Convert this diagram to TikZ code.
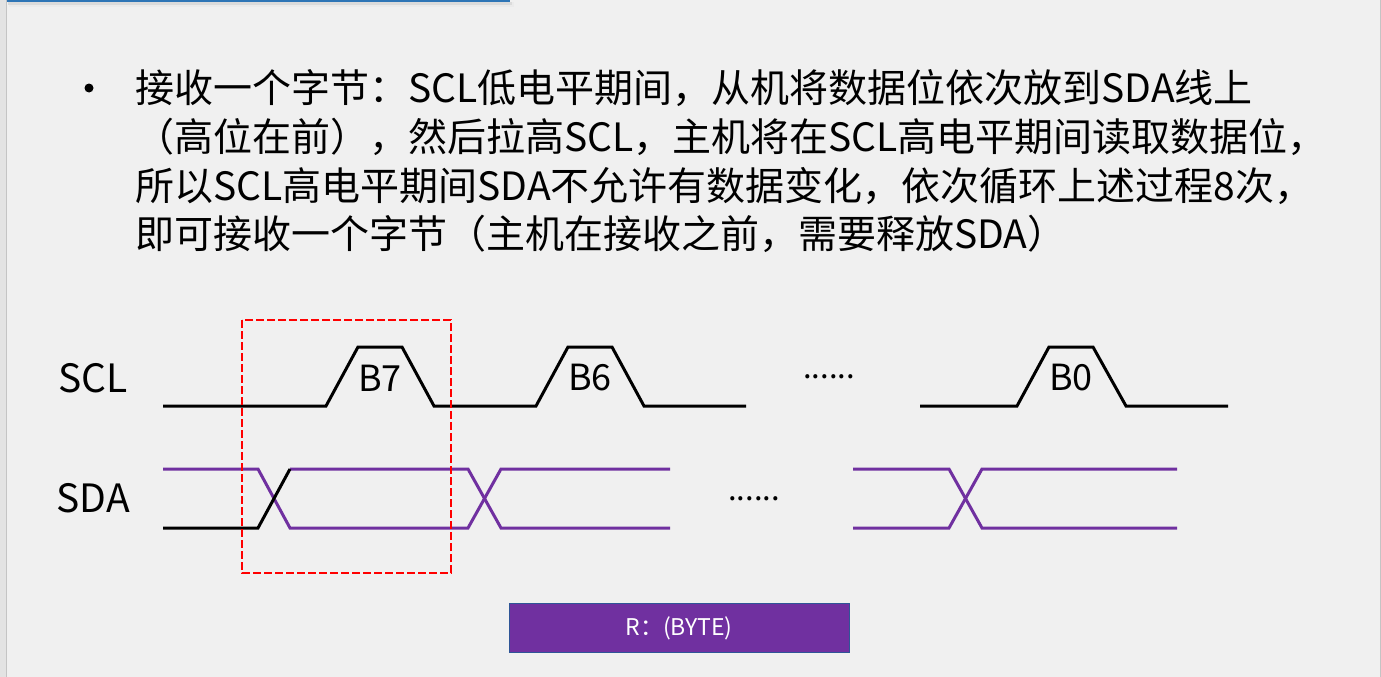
\documentclass[tikz,border=0pt]{standalone}
\usepackage{fontspec}
\setmainfont{Noto Sans CJK SC}
\usepackage{tikz}
\usetikzlibrary{calc}

\definecolor{slideBg}{HTML}{F0F0F0}
\definecolor{stripGray}{HTML}{E3E3E3}
\definecolor{edgeGray}{HTML}{C4C4C4}
\definecolor{titleBlue}{HTML}{2E75B6}
\definecolor{busPurple}{HTML}{7030A0}
\definecolor{boxEdge}{HTML}{2F5597}

\tikzset{
    sclLine/.style={black, line width=3pt},
    sdaLine/.style={busPurple, line width=3pt},
    bitFrame/.style={red, line width=1.1pt, dash pattern=on 8pt off 3pt},
    bodyText/.style={anchor=base west, inner sep=0pt, font=\fontsize{39}{49}\selectfont},
    sigName/.style={inner sep=0pt, font=\fontsize{39}{45}\selectfont},
    bitName/.style={inner sep=0pt, font=\fontsize{36}{40}\selectfont},
    dotsText/.style={inner sep=0pt, font=\fontsize{31}{34}\selectfont}
}

\begin{document}
\begin{tikzpicture}[x=1pt, y=-1pt]

    % === DEFINITIONS ===
    % signal levels (pixel rows of the slide)
    \def\sclLo{406}
    \def\sclHi{347}
    \def\sdaHi{469}
    \def\sdaLo{528}

    % === 0. SLIDE BACKGROUND ===
    \useasboundingbox (0,0) rectangle (1381,677);
    \fill[slideBg] (0,0) rectangle (1381,677);
    \fill[stripGray] (0,0) rectangle (6,677);
    \draw[edgeGray, line width=1pt] (6.5,0) -- (6.5,677);
    \draw[edgeGray, line width=1pt] (1380,0) -- (1380,677);
    % title bar remains at the top edge, with a soft shadow
    \fill[black!8] (9,2) rectangle (514,7);
    \fill[black!14] (8,2) rectangle (512,5);
    \fill[titleBlue] (7,0) rectangle (510,2.5);

    % === 1. BULLET TEXT ===
    \node[circle, fill=black, inner sep=0pt, minimum size=9pt] (dotA) at (89,88) {};
    \node[bodyText] (txtA) at (135,102) {接收一个字节：SCL低电平期间，从机将数据位依次放到SDA线上};
    \node[bodyText] (txtB) at (135,151) {（高位在前），然后拉高SCL，主机将在SCL高电平期间读取数据位，};
    \node[bodyText] (txtC) at (135,200) {所以SCL高电平期间SDA不允许有数据变化，依次循环上述过程8次，};
    \node[bodyText] (txtD) at (135,248) {即可接收一个字节（主机在接收之前，需要释放SDA）};

    % === 2. SIGNAL NAMES ===
    \node[sigName] (sclName) at (93,378) {SCL};
    \node[sigName] (sdaName) at (93,498) {SDA};

    % === 3. SCL CLOCK ===
    \draw[sclLine] (163,\sclLo) -- (326,\sclLo) -- (358,\sclHi) -- (402,\sclHi) -- (434,\sclLo)
        -- (536,\sclLo) -- (568,\sclHi) -- (612,\sclHi) -- (644,\sclLo) -- (746,\sclLo);
    \draw[sclLine] (920,\sclLo) -- (1017,\sclLo) -- (1049,\sclHi) -- (1093,\sclHi) -- (1126,\sclLo) -- (1228,\sclLo);
    % bit names inside the high pulses
    \foreach \xc/\bit in {380/B7, 590/B6, 1071/B0}
        \node[bitName] (pulse\bit) at (\xc,378) {\bit};
    \node[dotsText] (sclDots) at (829,377) {......};

    % === 4. SDA DATA ===
    % first bit: line released by the master, slave drives it
    \draw[sdaLine] (163,\sdaHi) -- (258,\sdaHi) -- (290,\sdaLo) -- (468,\sdaLo) -- (501,\sdaHi) -- (670,\sdaHi);
    \draw[sdaLine] (290,\sdaHi) -- (468,\sdaHi) -- (501,\sdaLo) -- (670,\sdaLo);
    \draw[sclLine] (163,\sdaLo) -- (258,\sdaLo) -- (290,\sdaHi);
    % last bit
    \draw[sdaLine] (853,\sdaHi) -- (949,\sdaHi) -- (982,\sdaLo) -- (1177,\sdaLo);
    \draw[sdaLine] (853,\sdaLo) -- (949,\sdaLo) -- (982,\sdaHi) -- (1177,\sdaHi);
    \node[dotsText] (sdaDots) at (754,499) {......};

    % === 5. FRAME ROUND ONE BIT ===
    \draw[bitFrame] (242,320) rectangle (451,573);

    % === 6. CAPTION BOX ===
    \node[fill=busPurple, draw=boxEdge, line width=1pt, minimum width=340pt, minimum height=49pt,
          text=white, inner sep=0pt, font=\fontsize{23}{26}\selectfont] (caption) at (679,628) {R：(BYTE)};

\end{tikzpicture}
\end{document}
